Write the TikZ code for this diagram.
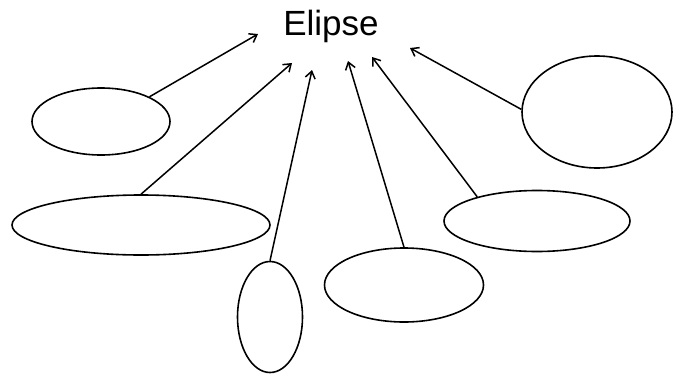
\documentclass[tikz,border=0pt]{standalone}
\usepackage{fontspec}
\setmainfont{Liberation Sans}
\usetikzlibrary{shapes.geometric, arrows.meta}

\begin{document}
\begin{tikzpicture}[x=1pt, y=-1pt,
    oval/.style={draw, ellipse, line width=1.6pt, inner sep=0pt},
    link/.style={-{Straight Barb[length=7pt, width=10pt]}, line width=1.5pt}]
    \useasboundingbox (0,0) rectangle (677,375);

    \node[anchor=base, font=\fontsize{35}{40}\selectfont] (title) at (331,35) {Elipse};

    \node[oval, minimum width=138pt, minimum height=67pt] (E1) at (101,121.5) {};
    \node[oval, minimum width=258pt, minimum height=60pt] (E2) at (141,225) {};
    \node[oval, minimum width=65pt, minimum height=111pt] (E3) at (270,317) {};
    \node[oval, minimum width=159pt, minimum height=74pt] (E4) at (404,285) {};
    \node[oval, minimum width=186pt, minimum height=61pt] (E5) at (537,221) {};
    \node[oval, minimum width=150pt, minimum height=112pt] (E6) at (597,112) {};

    \coordinate (T1) at (258,34);
    \coordinate (T2) at (292,63);
    \coordinate (T3) at (312,70);
    \coordinate (T4) at (348,61);
    \coordinate (T5) at (372,57);
    \coordinate (T6) at (410,48);

    \draw[link] (E1.27) -- (T1);
    \draw[link] (E2.north) -- (T2);
    \draw[link] (E3.north) -- (T3);
    \draw[link] (E4.north) -- (T4);
    \draw[link] (E5.158) -- (T5);
    \draw[link] (E6.178) -- (T6);
\end{tikzpicture}
\end{document}
